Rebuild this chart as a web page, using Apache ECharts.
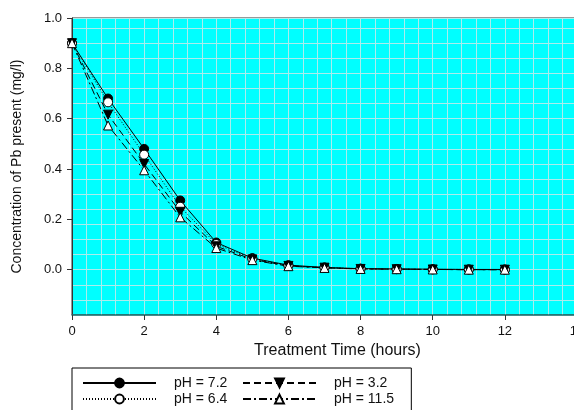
<!DOCTYPE html>
<html>
<head>
<meta charset="utf-8">
<script src="https://cdn.jsdelivr.net/npm/echarts@6/dist/echarts.min.js"></script>
<style>html,body{margin:0;padding:0;background:#fff}#c{width:574px;height:410px}</style>
</head>
<body>
<div id="c"></div>
<script>
var hours = [0, 1, 2, 3, 4, 5, 6, 7, 8, 9, 10, 11, 12];
var ph72  = [0.9, 0.68, 0.48, 0.275, 0.108, 0.046, 0.018, 0.009, 0.004, 0.003, 0.002, 0.001, 0.001];
var ph64  = [0.9, 0.665, 0.457, 0.25, 0.102, 0.043, 0.016, 0.008, 0.004, 0.002, 0.001, 0.001, 0.0];
var ph32  = [0.9, 0.616, 0.42, 0.23, 0.093, 0.041, 0.015, 0.008, 0.003, 0.002, 0.001, 0.0, 0.0];
var ph115 = [0.9, 0.573, 0.395, 0.208, 0.086, 0.038, 0.014, 0.007, 0.003, 0.002, 0.001, 0.0, 0.0];
var xTicks = [0, 2, 4, 6, 8, 10, 12, 14];
var yTicks = [0, 0.2, 0.4, 0.6, 0.8, 1.0];
var names = ['pH = 7.2', 'pH = 6.4', 'pH = 3.2', 'pH = 11.5'];

function pairs(v) { return hours.map(function (h, i) { return [h, v[i]]; }); }
var FONT = 'Liberation Sans, Arial, sans-serif';
var GRIDC = '#a9eded';

var chart = echarts.init(document.getElementById('c'), null, {renderer: 'canvas'});
function mk(name, data, symbol, rot, fill, ltype) {
  return {
    name: name, type: 'line', data: pairs(data), xAxisIndex: 0, yAxisIndex: 0,
    symbol: symbol, symbolSize: 9, symbolRotate: rot,
    lineStyle: {color: '#000', width: 1, type: ltype},
    itemStyle: {color: fill, borderColor: '#000', borderWidth: 1},
    emphasis: {disabled: true}, animation: false
  };
}
var hidden = {axisLine: {show: false}, axisTick: {show: false}, axisLabel: {show: false}};
function leg(left, top, name, pad, border) {
  return {
    left: left, top: top, orient: 'horizontal',
    padding: pad, borderColor: '#000', borderWidth: border ? 1 : 0,
    itemWidth: 73, itemHeight: 11, itemGap: 2, selectedMode: false,
    textStyle: {fontSize: 14, fontFamily: FONT, color: '#111', padding: [0, 0, 0, 13]},
    data: [name]
  };
}
chart.setOption({
  animation: false,
  backgroundColor: '#fff',
  grid: {left: 72, top: 18, right: -3, bottom: 95, show: true, outerBoundsMode: 'none', containLabel: false,
         backgroundColor: '#00ffff', borderColor: '#333', borderWidth: 1},
  xAxis: [{
    type: 'value', min: 0, max: 14,
    name: 'Treatment Time (hours)', nameLocation: 'middle', nameGap: 28,
    nameTextStyle: {fontSize: 16, fontFamily: FONT, color: '#111', padding: [0, 0, 0, 26]},
    axisLine: {show: true, onZero: false, lineStyle: {color: '#2a6a6a', width: 1.5}},
    axisTick: {show: true, length: 5, customValues: xTicks, lineStyle: {color: '#333'}},
    axisLabel: {customValues: xTicks, margin: 10, fontSize: 13, fontFamily: FONT, color: '#111'},
    splitLine: {show: false}, z: 3
  }, Object.assign({
    type: 'value', min: 0, max: 14, interval: 0.4, position: 'top',
    splitLine: {show: true, lineStyle: {color: GRIDC, width: 1}}
  }, hidden)],
  yAxis: [{
    type: 'value', min: -0.18, max: 1.0,
    name: 'Concentration of Pb present (mg/l)', nameLocation: 'middle', nameGap: 48,
    nameTextStyle: {fontSize: 14, fontFamily: FONT, color: '#111'},
    axisLine: {show: true, onZero: false, lineStyle: {color: '#333', width: 1}},
    axisTick: {show: true, length: 5, customValues: yTicks, lineStyle: {color: '#333'}},
    axisLabel: {customValues: yTicks, margin: 10, fontSize: 13, fontFamily: FONT, color: '#111',
                formatter: function (v) { return v.toFixed(1); }},
    splitLine: {show: false}, z: 3
  }, Object.assign({
    type: 'value', min: -0.18, max: 1.0, interval: 0.06, position: 'right',
    splitLine: {show: true, lineStyle: {color: GRIDC, width: 1}}
  }, hidden)],
  legend: [
    leg(72, 368, names[0], [8, 184, 24, 10], true),
    leg(72, 384, names[1], [8, 10, 8, 10], false),
    leg(232, 368, names[2], [8, 10, 8, 10], false),
    leg(232, 384, names[3], [8, 10, 8, 10], false)
  ],
  series: [
    mk(names[0], ph72, 'circle', 0, '#000', 'solid'),
    mk(names[1], ph64, 'circle', 0, '#fff', [1, 2]),
    mk(names[2], ph32, 'triangle', 180, '#000', [7, 4]),
    mk(names[3], ph115, 'triangle', 0, '#fff', [8, 3, 2, 3])
  ]
});
</script>
</body>
</html>
